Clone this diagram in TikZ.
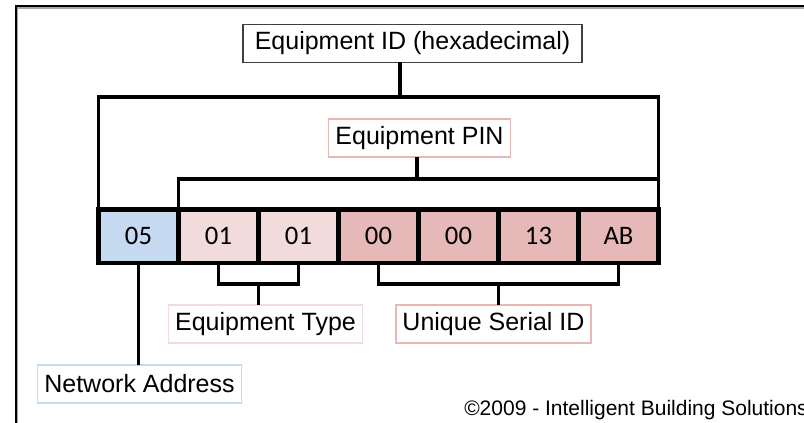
\documentclass[tikz,border=0pt]{standalone}
\usepackage{fontspec}
\setmainfont{Liberation Sans}
\newfontfamily\cellfont{Carlito}
\usepackage{tikz}
\usetikzlibrary{calc,positioning}

\definecolor{netblue}{HTML}{C5D9F1}
\definecolor{typepink}{HTML}{F2DCDB}
\definecolor{serialpink}{HTML}{E6B8B7}
\definecolor{tagline}{HTML}{404040}

\begin{document}
\begin{tikzpicture}[
  x=0.75pt, y=-0.75pt,
  cell/.style={draw=black,line width=3.4pt,minimum width=60pt,minimum height=40.1pt,
    inner sep=0pt,outer sep=0pt,font=\cellfont\fontsize{20}{24}\selectfont},
  tag/.style={draw=#1,line width=1.1pt,minimum height=28.5pt,inner xsep=5pt,inner ysep=0pt,
    outer sep=0pt,font=\fontsize{18.75}{22}\selectfont},
  link/.style={line width=2.6pt}
]
  \useasboundingbox (0,0) rectangle (804,423);

  % window frame
  \draw[black!35,line width=0.8pt] (17.5,423) -- (17.5,8) -- (804,8);
  \draw[line width=1.5pt] (15.5,423) -- (15.5,6) -- (804,6);

  % the seven bytes
  \foreach \i/\v/\col in {1/05/netblue,2/01/typepink,3/01/typepink,4/00/serialpink,
                          5/00/serialpink,6/13/serialpink,7/AB/serialpink}
    \node[cell,fill=\col] (c\i) at ({138.5+80*(\i-1)},236.25) {\v};

  % labels
  \node[tag=tagline,minimum width=254pt] (idbox) at (412.5,43.5) {Equipment ID (hexadecimal)};
  \node[tag=serialpink] (pinbox) at (419.5,138) {Equipment PIN};
  \node[tag=typepink] (typebox) at (265.5,324) {Equipment Type};
  \node[tag=serialpink] (serialbox) at (493.5,324) {Unique Serial ID};
  \node[tag=netblue] (netbox) at (139.5,384) {Network Address};
  \node[anchor=west,inner sep=0pt,font=\fontsize{15.75}{18}\selectfont] (copy) at (464,410)
    {\textcopyright2009 - Intelligent Building Solutions};

  % brackets above the bytes
  \coordinate (idfoot) at (400,97);
  \coordinate (pinfoot) at (417,179);
  \draw[link] (idbox.south -| idfoot) -- (idfoot);
  \draw[link] (c1.north west) |- (idfoot) -| (c7.north east);
  \draw[link] (pinbox.south -| pinfoot) -- (pinfoot);
  \draw[link] (c2.north west) |- (pinfoot) -| (c7.north east);

  % brackets below the bytes
  \coordinate (typejoint) at ($(c2.south)!0.5!(c3.south)+(0,21)$);
  \coordinate (serialjoint) at ($(c4.south)!0.5!(c7.south)+(0,21)$);
  \draw[link] (c2.south) |- (typejoint) -| (c3.south);
  \draw[link] (typejoint) -- (typebox.north -| typejoint);
  \draw[link] (c4.south) |- (serialjoint) -| (c7.south);
  \draw[link] (serialjoint) -- (serialbox.north -| serialjoint);
  \draw[link] (c1.south) -- (netbox.north -| c1.south);
\end{tikzpicture}
\end{document}
